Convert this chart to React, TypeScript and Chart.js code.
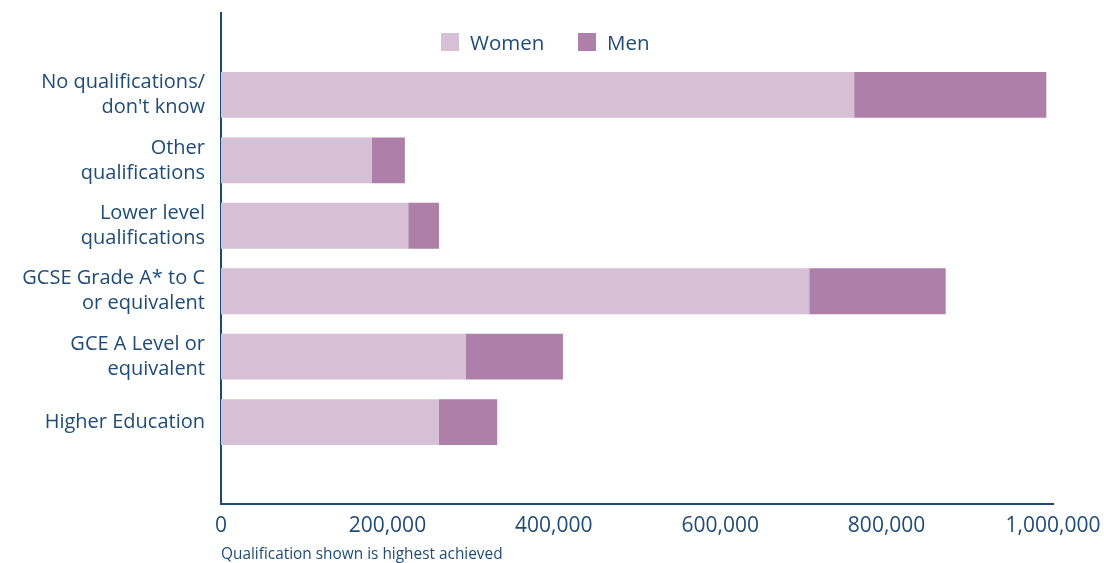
import React, { useEffect, useRef } from "react";
import { Chart, registerables } from "chart.js";

Chart.register(...registerables);

const categories: string[][] = [
  ["No qualifications/", "don't know"],
  ["Other", "qualifications"],
  ["Lower level", "qualifications"],
  ["GCSE Grade A* to C", "or equivalent"],
  ["GCE A Level or", "equivalent"],
  ["Higher Education"],
];
const women: number[] = [761000, 181000, 225000, 707000, 294000, 262000];
const men: number[] = [231000, 40000, 37000, 164000, 117000, 70000];
const xTicks: number[] = [0, 200000, 400000, 600000, 800000, 1000000];
const seriesNames: string[] = ["Women", "Men"];
const note = "Qualification shown is highest achieved";

const TEXT = "#1f4b78";
const AXIS = "#1b4a7a";
const WOMEN_COLOR = "#d5c0d5";
const MEN_COLOR = "#ad7fa9";
const FONT = "'Open Sans', 'Liberation Sans', Arial, sans-serif";

const Y_MIN = -1.25;
const Y_MAX = 6.25;

export default function App() {
  const ref = useRef<HTMLCanvasElement | null>(null);

  useEffect(() => {
    if (!ref.current) return;
    const chart = new Chart(ref.current, {
      type: "bar",
      data: {
        datasets: [
          {
            label: seriesNames[0],
            data: women.map((v, i) => ({ x: v, y: i })),
            backgroundColor: WOMEN_COLOR,
            borderWidth: 0,
            barPercentage: 0.7,
            categoryPercentage: 1,
          },
          {
            label: seriesNames[1],
            data: men.map((v, i) => ({ x: v, y: i })),
            backgroundColor: MEN_COLOR,
            borderWidth: 0,
            barPercentage: 0.7,
            categoryPercentage: 1,
          },
        ],
      },
      options: {
        indexAxis: "y",
        animation: false,
        responsive: false,
        maintainAspectRatio: false,
        layout: { padding: { top: 13, right: 51, bottom: 0, left: 0 } },
        plugins: {
          legend: { display: false },
          tooltip: { enabled: false },
        },
        scales: {
          x: {
            type: "linear",
            stacked: true,
            min: 0,
            max: 1000000,
            grid: { display: false, drawTicks: false },
            border: { display: true, color: AXIS, width: 2 },
            afterBuildTicks: (scale: any) => {
              scale.ticks = xTicks.map((v) => ({ value: v }));
              scale.min = 0;
              scale.max = 1000000;
            },
            afterFit: (scale: any) => {
              scale.height = 59;
              scale.paddingLeft = 0;
              scale.paddingRight = 0;
            },
            ticks: {
              color: TEXT,
              font: { family: FONT, size: 21 },
              padding: 9,
              maxRotation: 0,
              autoSkip: false,
              callback: (v: any) => Number(v).toLocaleString("en-GB"),
            },
          },
          y: {
            type: "linear",
            stacked: true,
            reverse: true,
            offset: false,
            bounds: "data",
            min: Y_MIN,
            max: Y_MAX,
            grid: { display: false, drawTicks: false, offset: false },
            border: { display: true, color: AXIS, width: 2 },
            afterBuildTicks: (scale: any) => {
              scale.ticks = categories.map((_, i) => ({ value: i }));
              scale.min = Y_MIN;
              scale.max = Y_MAX;
            },
            afterFit: (scale: any) => {
              scale.width = 221;
              scale.paddingTop = 0;
              scale.paddingBottom = 0;
            },
            ticks: {
              color: TEXT,
              font: { family: FONT, size: 20, lineHeight: 1.25 },
              padding: 16,
              autoSkip: false,
              callback: (v: any) => categories[Math.round(Number(v))] ?? "",
            },
          },
        },
      },
    });
    return () => chart.destroy();
  }, []);

  const legendItem = (left: number, color: string, label: string) => (
    <div
      style={{
        position: "absolute",
        left,
        top: 31,
        height: 22,
        display: "flex",
        alignItems: "center",
      }}
    >
      <div style={{ width: 18, height: 18, background: color, marginRight: 11 }} />
      <span style={{ fontFamily: FONT, fontSize: 20.5, color: TEXT, lineHeight: "22px" }}>{label}</span>
    </div>
  );

  return (
    <div
      style={{
        position: "fixed",
        left: 0,
        top: 0,
        width: 1104,
        height: 563,
        background: "#ffffff",
        overflow: "hidden",
      }}
    >
      <canvas ref={ref} width={1104} height={563} style={{ display: "block" }} />
      {legendItem(441, WOMEN_COLOR, seriesNames[0])}
      {legendItem(578, MEN_COLOR, seriesNames[1])}
      <div
        style={{
          position: "absolute",
          left: 221,
          top: 545,
          fontFamily: FONT,
          fontSize: 15.4,
          color: TEXT,
          lineHeight: "18px",
          whiteSpace: "nowrap",
        }}
      >
        {note}
      </div>
    </div>
  );
}
